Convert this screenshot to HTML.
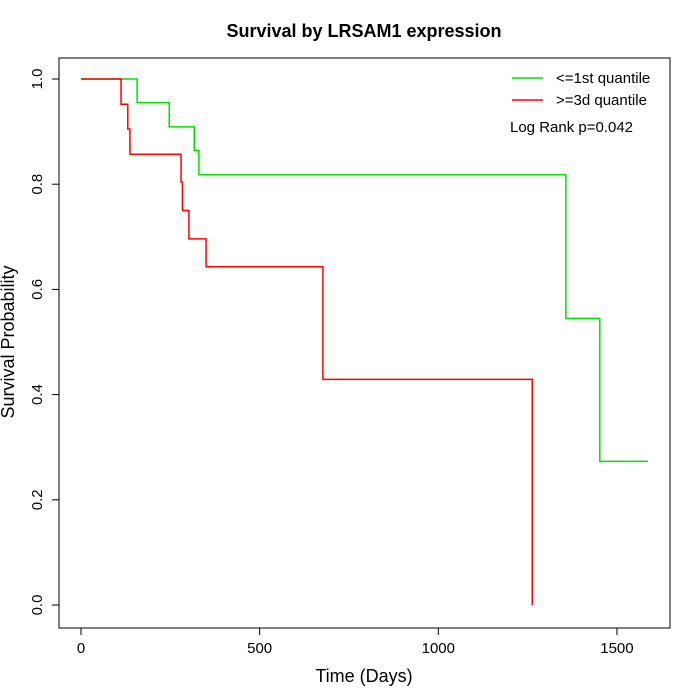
<!DOCTYPE html>
<html><head><meta charset="utf-8"><style>body{margin:0;background:#fff}svg{display:block;font-family:"Liberation Sans",sans-serif}</style></head>
<body>
<svg id="chart" width="700" height="700" viewBox="0 0 700 700" xmlns="http://www.w3.org/2000/svg">
<rect width="700" height="700" fill="#fff"/>
<text x="364" y="37" text-anchor="middle" font-size="18" font-weight="bold">Survival by LRSAM1 expression</text>
<rect x="59" y="58" width="611" height="570" fill="none" stroke="#000"/>
<g id="axes"></g>
<g id="series"></g>
<text x="364" y="682" text-anchor="middle" font-size="18">Time (Days)</text>
<text transform="translate(14,342) rotate(-90)" text-anchor="middle" font-size="18">Survival Probability</text>
<g>
<line x1="512" y1="78" x2="543" y2="78" stroke="#00e000" stroke-width="1.5"/>
<text x="556" y="83" font-size="15">&lt;=1st quantile</text>
<line x1="512" y1="100" x2="543" y2="100" stroke="#ff0000" stroke-width="1.5"/>
<text x="556" y="105" font-size="15">&gt;=3d quantile</text>
<text x="510" y="132" font-size="15">Log Rank p=0.042</text>
</g>
</svg>
<script>
const xTicks=[0,500,1000,1500];
const yTicks=[0.0,0.2,0.4,0.6,0.8,1.0];
const greenTimes=[0,157,247,317,330,1357,1452,1587];
const greenSurv=[1.0,0.955,0.909,0.864,0.818,0.545,0.273,0.273];
const redTimes=[0,112,131,137,280,284,302,350,677,1263,1263];
const redSurv=[1.0,0.952,0.905,0.857,0.804,0.75,0.696,0.643,0.429,0.429,0.0];
const NS="http://www.w3.org/2000/svg";
const sx=d=>81+d*0.3573, sy=v=>605-v*526;
const ax=document.getElementById('axes'), se=document.getElementById('series');
function mk(tag,attrs,parent){const e=document.createElementNS(NS,tag);for(const k in attrs)e.setAttribute(k,attrs[k]);parent.appendChild(e);return e;}
mk('line',{x1:sx(xTicks[0]),x2:sx(xTicks[xTicks.length-1]),y1:628,y2:628,stroke:'#000'},ax);
xTicks.forEach(t=>{
 const l=mk('line',{x1:sx(t),x2:sx(t),y1:628,y2:635,stroke:'#000'},ax);
 
 
 const tx=mk('text',{x:sx(t),y:653,'text-anchor':'middle','font-size':15},ax);
 
 
 tx.textContent=t;
});
mk('line',{x1:59,x2:59,y1:sy(yTicks[0]),y2:sy(yTicks[yTicks.length-1]),stroke:'#000'},ax);
yTicks.forEach(t=>{
 const l=mk('line',{x1:52,x2:59,y1:sy(t),y2:sy(t),stroke:'#000'},ax);
 
 
 const tx=mk('text',{transform:`translate(42,${sy(t)}) rotate(-90)`,'text-anchor':'middle','font-size':15},ax);
 
 
 tx.textContent=t.toFixed(1);
});
function stepPath(ts,ss){let d=`M${sx(ts[0])},${sy(ss[0])}`;for(let i=1;i<ts.length;i++){d+=` H${sx(ts[i])} V${sy(ss[i])}`;}return d;}
const g=mk('path',{d:stepPath(greenTimes,greenSurv),fill:'none',stroke:'#00e000','stroke-width':1.5},se);


const r=mk('path',{d:stepPath(redTimes,redSurv),fill:'none',stroke:'#ff0000','stroke-width':1.5},se);


</script>
</body></html>
